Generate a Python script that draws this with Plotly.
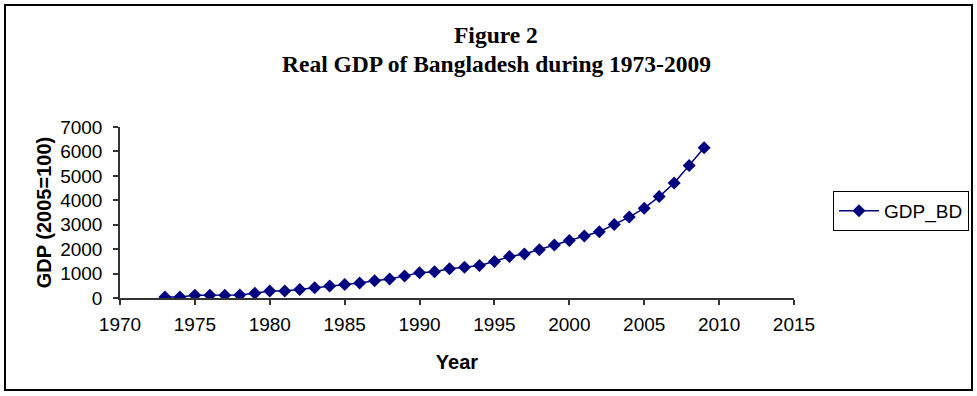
import plotly.graph_objects as go

years = list(range(1973, 2010))
gdp_bd = [40, 45, 110, 115, 115, 120, 190, 285, 290, 350, 420, 490, 550, 615,
          705, 775, 905, 1030, 1075, 1195, 1262, 1330, 1495, 1695, 1805, 1980,
          2170, 2350, 2537, 2714, 3012, 3311, 3677, 4152, 4708, 5427, 6147]
x_ticks = [1970, 1975, 1980, 1985, 1990, 1995, 2000, 2005, 2010, 2015]
y_ticks = [0, 1000, 2000, 3000, 4000, 5000, 6000, 7000]

W, H = 977, 396
L, R, T, B = 120, 183, 127, 98
pw, ph = W - L - R, H - T - B

def px_x(px):
    return (px - L) / pw

def px_y(py):
    return (H - B - py) / ph

fig = go.Figure()
fig.add_trace(go.Scatter(
    x=years, y=gdp_bd, mode="lines+markers", name="GDP_BD",
    line=dict(color="#000080", width=1.5),
    marker=dict(symbol="diamond", size=10, color="#000080"),
))

sans = "Liberation Sans, Arial, sans-serif"
axis_font = dict(family=sans, size=19, color="black")
fig.update_layout(
    width=W, height=H,
    margin=dict(l=L, r=R, t=T, b=B, autoexpand=False),
    paper_bgcolor="white", plot_bgcolor="white",
    font=axis_font,
    showlegend=True,
    legend=dict(xref="container", yref="container", x=833 / W, y=1 - 191 / H,
                xanchor="left", yanchor="top",
                bordercolor="black", borderwidth=1,
                font=dict(family=sans, size=19, color="black"),
                itemwidth=40, tracegroupgap=0),
    xaxis=dict(range=[1970, 2015], tickvals=x_ticks, ticktext=[str(v) for v in x_ticks],
               showgrid=False, zeroline=False, showline=True, linecolor="#333333", linewidth=1.5,
               ticks="outside", ticklen=5, tickcolor="#333333", tickwidth=1.5,
               tickfont=axis_font, ticklabelstandoff=3, automargin=False,
               title=dict(text="<b>Year</b>", font=dict(family=sans, size=20, color="black"), standoff=21)),
    yaxis=dict(range=[0, 7000], tickvals=y_ticks, ticktext=[str(v) for v in y_ticks],
               showgrid=False, zeroline=False, showline=True, linecolor="#333333", linewidth=1.5,
               ticks="outside", ticklen=5, tickcolor="#333333", tickwidth=1.5,
               tickfont=axis_font, ticklabelstandoff=7, automargin=False,
               title=dict(text="<b>GDP (2005=100)</b>", font=dict(family=sans, size=20, color="black"), standoff=3)),
)

title_font = dict(family="Liberation Serif, Times New Roman, serif", size=23.5, color="black")
fig.add_annotation(text="<b>Figure 2</b>", x=px_x(496), y=px_y(35), xref="paper", yref="paper",
                   showarrow=False, xanchor="center", yanchor="middle", font=title_font)
fig.add_annotation(text="<b>Real GDP of Bangladesh during 1973-2009</b>", x=px_x(496), y=px_y(64),
                   xref="paper", yref="paper", showarrow=False, xanchor="center", yanchor="middle",
                   font=title_font)

fig.add_shape(type="rect", xref="paper", yref="paper",
              x0=px_x(5), x1=px_x(972), y0=px_y(390), y1=px_y(5),
              line=dict(color="black", width=2), fillcolor="rgba(0,0,0,0)", layer="below")

fig.write_html("out.html")
